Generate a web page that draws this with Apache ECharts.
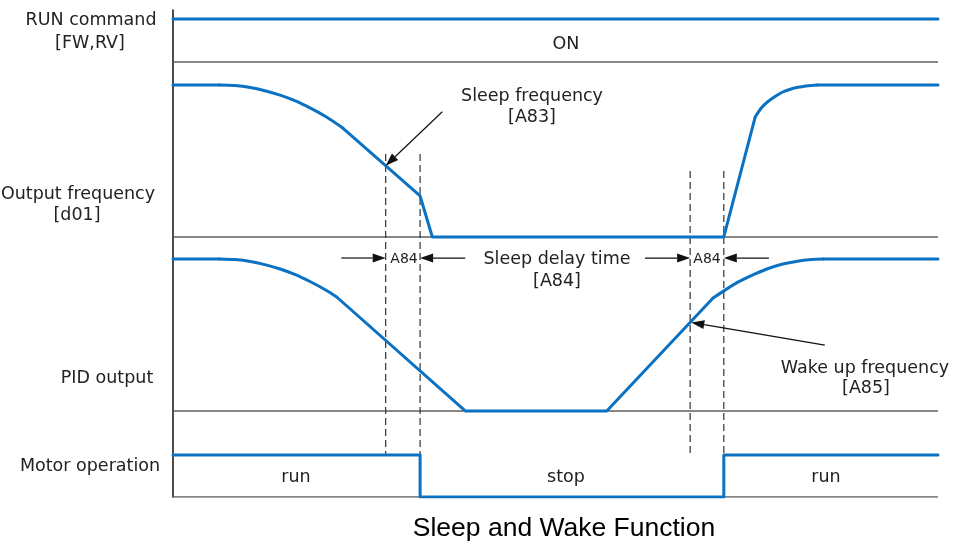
<!DOCTYPE html>
<html><head><meta charset="utf-8">
<script src="https://cdn.jsdelivr.net/npm/echarts@6/dist/echarts.min.js"></script>
<style>html,body{margin:0;padding:0;background:#fff}#c{width:956px;height:549px}</style>
</head><body><div id="c"></div>
<script>
// ---- data (time 0..100, signal level 0..1) ----
const runT = [0, 100];
const runLevel = [1, 1];

const outT = [0, 6.1, 8.1, 10.1, 12.0, 14.0, 16.0, 17.9, 19.9, 22.2, 32.3, 33.9, 72.0, 76.1, 76.9, 77.7, 78.7, 79.7, 80.8, 82.0, 83.0, 84.2, 100];
const outLevel = [1, 1, 0.996, 0.983, 0.962, 0.933, 0.895, 0.849, 0.794, 0.717, 0.270, 0, 0, 0.789, 0.849, 0.888, 0.924, 0.954, 0.974, 0.987, 0.995, 1, 1];

const pidT = [0, 6.1, 8.1, 10.1, 12.0, 14.0, 16.0, 17.9, 19.9, 21.4, 38.2, 56.7, 70.6, 72.2, 74.1, 76.1, 78.0, 80.0, 82.0, 83.5, 85.0, 100];
const pidLevel = [1, 1, 0.996, 0.984, 0.963, 0.934, 0.897, 0.852, 0.798, 0.750, 0, 0, 0.743, 0.797, 0.854, 0.902, 0.941, 0.970, 0.989, 0.997, 1, 1];

const motorT = [0, 32.3, 32.3, 72.0, 72.0, 100];
const motorLevel = [1, 1, 0, 0, 1, 1];

// event times: sleep freq reached, sleep, wake freq reached, wake
const eventT = [27.8, 32.3, 67.6, 72.0];

const signalLabels = [['RUN command', '[FW,RV]'], ['Output frequency', '[d01]'], ['PID output'], ['Motor operation']];
const motorStates = ['run', 'stop', 'run'];
const title = 'Sleep and Wake Function';

// ---- layout (bands on a 0..100 y scale) ----
const bands = {
  run:   {base: 89.32, span: 8.83},
  out:   {base: 53.39, span: 31.21},
  pid:   {base: 17.66, span: 31.21},
  motor: {base: 0,     span: 8.62}
};
// index ranges of the curved (smoothed) parts of each signal
const outCurves = [[1, 9], [13, 21]];
const pidCurves = [[1, 9], [12, 20]];

const BLUE = '#0B72C3';
const TXT = '#222';
const FONT = 'DejaVu Sans';

function toPts(ts, lv, band) { return ts.map((t, i) => [t, band.base + lv[i] * band.span]); }
function interp(ts, lv, t) {
  for (let i = 0; i < ts.length - 1; i++) {
    if (t >= ts[i] && t <= ts[i + 1] && ts[i + 1] > ts[i]) {
      return lv[i] + (lv[i + 1] - lv[i]) * (t - ts[i]) / (ts[i + 1] - ts[i]);
    }
  }
  return lv[lv.length - 1];
}
const yOf = (b, l) => b.base + l * b.span;

function sigSeries(name, pts, smooth) {
  return {name, type: 'line', data: pts, showSymbol: false, symbol: 'none', z: 5,
    smooth: smooth || false,
    lineStyle: {color: BLUE, width: 3, join: 'round', cap: 'round'}, animation: false};
}
// split a signal into straight and smoothed pieces
function splitSeries(name, pts, curves) {
  const out = [];
  let cursor = 0;
  curves.forEach(([a, b]) => {
    if (a > cursor) out.push(sigSeries(name, pts.slice(cursor, a + 1)));
    out.push(sigSeries(name, pts.slice(a, b + 1), 0.3));
    cursor = b;
  });
  if (cursor < pts.length - 1) out.push(sigSeries(name, pts.slice(cursor)));
  return out;
}

const sepLevels = [bands.run.base, bands.out.base, bands.pid.base, bands.motor.base];
const sepSeries = sepLevels.map((y) => ({
  type: 'line', data: [[0, y], [100, y]], symbol: 'none', z: 2, animation: false,
  lineStyle: {color: '#5f5f5f', width: 1.5}
}));

// dashed guides
const dashTopLevels = [0.546, 0.546, 0.434, 0.434];
const dashData = eventT.map((t, i) => [t, yOf(bands.out, dashTopLevels[i]), t, yOf(bands.motor, 1)]);

// arrows
const yDim = yOf(bands.pid, 1) + 0.2;
const arrowData = [
  [22.0, yDim, eventT[0], yDim],
  [38.2, yDim, eventT[1], yDim],
  [61.7, yDim, eventT[2], yDim],
  [77.9, yDim, eventT[3], yDim],
  [35.2, 79.1, eventT[0], yOf(bands.out, interp(outT, outLevel, eventT[0]))],
  [85.2, 31.2, eventT[2] + 0.15, yOf(bands.pid, interp(pidT, pidLevel, eventT[2]))]
];

function renderArrow(params, api) {
  const p1 = api.coord([api.value(0), api.value(1)]);
  const p2 = api.coord([api.value(2), api.value(3)]);
  const dx = p2[0] - p1[0], dy = p2[1] - p1[1];
  const len = Math.hypot(dx, dy), ux = dx / len, uy = dy / len;
  const L = 13, W = 4.5;
  const bx = p2[0] - ux * L, by = p2[1] - uy * L;
  return {type: 'group', children: [
    {type: 'line', shape: {x1: p1[0], y1: p1[1], x2: bx, y2: by}, style: {stroke: '#111', lineWidth: 1.2}},
    {type: 'polygon', shape: {points: [[p2[0], p2[1]], [bx - uy * W, by + ux * W], [bx + uy * W, by - ux * W]]}, style: {fill: '#111'}}
  ]};
}
function renderDash(params, api) {
  const p1 = api.coord([api.value(0), api.value(1)]);
  const p2 = api.coord([api.value(2), api.value(3)]);
  return {type: 'line', shape: {x1: p1[0], y1: p1[1], x2: p2[0], y2: p2[1]},
    style: {stroke: '#333', lineWidth: 1.2, lineDash: [7, 4]}};
}

const DY = 1.5;
function txt(text, x, y, size, font, fill) {
  return {type: 'text', x, y: y + DY, z: 100, style: {text, align: 'center', verticalAlign: 'middle',
    fontSize: size || 17.5, fontFamily: font || FONT, fill: fill || TXT}};
}

const graphics = [
  txt(signalLabels[0][0], 91, 19), txt(signalLabels[0][1], 90, 42),
  txt('ON', 566, 43),
  txt(signalLabels[1][0], 78, 193), txt(signalLabels[1][1], 77, 214),
  txt('Sleep frequency', 532, 95), txt('[A83]', 532, 116),
  txt('A84', 404, 258, 14), txt('Sleep delay time', 557, 258), txt('[A84]', 557, 280),
  txt('A84', 707, 258, 14),
  txt(signalLabels[2][0], 107, 377),
  txt('Wake up frequency', 865, 367), txt('[A85]', 866, 387),
  txt(signalLabels[3][0], 90, 465),
  txt(motorStates[0], 296, 476), txt(motorStates[1], 566, 476), txt(motorStates[2], 826, 476),
  txt(title, 564, 527, 26.5, 'Liberation Sans', '#000')
];

const chart = echarts.init(document.getElementById('c'), null, {renderer: 'canvas'});
chart.setOption({
  animation: false,
  backgroundColor: '#fff',
  grid: {left: 173, right: 18, top: 10, bottom: 52},
  xAxis: {type: 'value', min: 0, max: 100, show: false},
  yAxis: {type: 'value', min: 0, max: 100, axisLine: {show: true, lineStyle: {color: '#111', width: 1.5}},
    axisTick: {show: false}, axisLabel: {show: false}, splitLine: {show: false}},
  series: [
    ...sepSeries,
    {type: 'custom', renderItem: renderDash, data: dashData, z: 3, encode: {x: [0, 2], y: [1, 3]}, silent: true},
    sigSeries('run', toPts(runT, runLevel, bands.run)),
    ...splitSeries('out', toPts(outT, outLevel, bands.out), outCurves),
    ...splitSeries('pid', toPts(pidT, pidLevel, bands.pid), pidCurves),
    sigSeries('motor', toPts(motorT, motorLevel, bands.motor)),
    {type: 'custom', renderItem: renderArrow, data: arrowData, z: 6, encode: {x: [0, 2], y: [1, 3]}, silent: true}
  ],
  graphic: graphics
});
</script></body></html>
